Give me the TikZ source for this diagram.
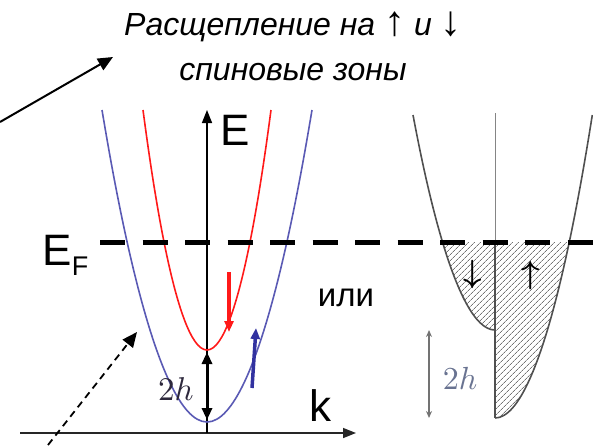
\documentclass[tikz,border=0pt]{standalone}
\usepackage{amsmath,amssymb}
\usepackage{fontspec}
\setmainfont{Liberation Sans}
\usepackage{xcolor}
\usepackage{tikz}
\usetikzlibrary{arrows.meta,positioning,patterns.meta}
\definecolor{bandblue}{RGB}{90,90,180}
\definecolor{spinblue}{RGB}{50,50,160}
\definecolor{bandred}{RGB}{255,25,25}
\definecolor{bandgray}{RGB}{80,80,80}
\definecolor{labelgray}{RGB}{105,115,145}
\definecolor{labeldark}{RGB}{45,40,60}
\newcommand{\bigspin}[1]{{\fontsize{42}{32}\selectfont\upshape #1}}

\begin{document}
\begin{tikzpicture}[x=1pt, y=-1pt, every node/.style={inner sep=0pt, align=center}]
\tikzset{
  title/.style={font=\fontsize{32}{32}\selectfont\itshape, anchor=base},
  biglabel/.style={font=\fontsize{44}{44}\selectfont},
  axis/.style={-{Triangle[length=13pt,width=10pt]}, line width=1.5pt},
  fermi/.style={line width=5pt, dash pattern=on 25pt off 17.5pt},
  band/.style={line width=1.6pt},
  spin/.style={-{Triangle[length=11pt,width=9pt]}, line width=3.5pt},
  gap/.style={{Triangle[length=12pt,width=10pt]}-{Triangle[length=12pt,width=10pt]}, line width=3pt},
  hatch/.style={pattern={Lines[angle=45,distance=4pt,line width=0.7pt]}, pattern color=bandgray!80},
  pointer/.style={-{Triangle[length=15pt,width=13pt]}, line width=2pt}
}
\useasboundingbox (0,0) rectangle (593,445);

% title
\node[title] (split) at (293,35) {Расщепление на \bigspin{↑} и \bigspin{↓}};
\node[title] (zones) at (293,80) {спиновые зоны};
\coordinate (from1) at (0,122);
\coordinate (to1) at (113,57);
\draw[pointer] (from1) -- (to1);

% left plot: parabolic bands
\coordinate (kstart) at (20,433);
\coordinate (kend) at (356,433);
\coordinate (Ebot) at (207,433);
\coordinate (Etop) at (207,110);
\draw[axis, black!85] (kstart) -- (kend);
\draw[axis] (Ebot) -- (Etop);
\node[biglabel] (E) at (235,130) {E};
\node[biglabel] (k) at (320,406) {k};
\draw[band, bandblue] (102,110) parabola bend (207,422) (312,110);
\draw[band, bandred] (143,110) parabola bend (207,350) (271,110);
\coordinate (upmin) at (207,352);
\coordinate (dnmin) at (207,420);
\draw[gap] (upmin) -- (dnmin);
\node[scale=3.3, text=labeldark] (gapL) at (176,389) {$2h$};
\coordinate (rd1) at (229,272);
\coordinate (rd2) at (229,332);
\draw[spin, bandred] (rd1) -- (rd2);
\coordinate (bu1) at (252,388);
\coordinate (bu2) at (256,328);
\draw[spin, spinblue] (bu1) -- (bu2);
\node[font=\fontsize{33}{33}\selectfont] (ili) at (346,298) {или};

% right plot: filled bands
\fill[hatch] (442.6,242) parabola[bend at end] (495,330) -- (495,242) -- cycle;
\fill[hatch] (495,418) parabola (569.2,242) -- (495,242) -- cycle;
\draw[bandgray!70, line width=0.8pt] (495,113) -- (495,242);
\draw[band, bandgray] (413,115) parabola[bend at end] (495,330);
\draw[band, bandgray] (495,418) parabola (592.3,115);
\draw[band, bandgray] (495,242) -- (495,418);
\node[scale=3.2] (dnspin) at (473,274) {$\boldsymbol{\downarrow}$};
\node[scale=3.2] (upspin) at (531,275) {$\boldsymbol{\uparrow}$};
\coordinate (gapR1) at (429,330);
\coordinate (gapR2) at (429,418);
\draw[{Stealth[length=7pt,width=6pt]}-{Stealth[length=7pt,width=6pt]}, line width=1.6pt, bandgray!80] (gapR1) -- (gapR2);
\node[scale=3.2, text=labelgray] (gapRlab) at (460,378) {$2h$};

% Fermi level
\coordinate (fl1) at (100,242);
\coordinate (fl2) at (593,242);
\draw[fermi] (fl1) -- (fl2);
\node[biglabel] (EF) at (57,250) {E};
\node[font=\fontsize{27}{27}\selectfont] (EFsub) at (80,266) {F};

% dashed pointer
\coordinate (from2) at (48,445);
\coordinate (to2) at (137,332);
\draw[pointer, dash pattern=on 7pt off 5pt, line width=1.8pt] (from2) -- (to2);
\end{tikzpicture}
\end{document}
